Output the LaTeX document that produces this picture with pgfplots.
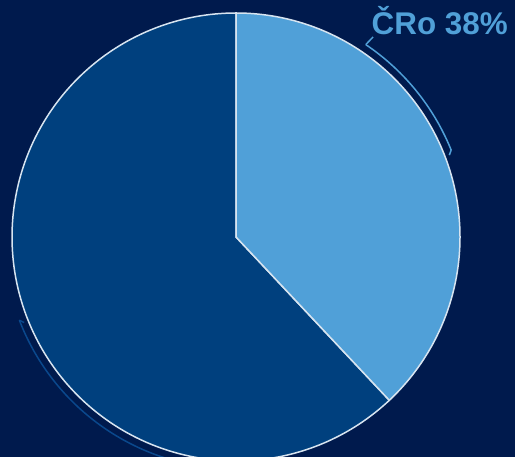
\documentclass[border=0pt]{standalone}
\usepackage{pgfplots}
\pgfplotsset{compat=1.18}
\usepackage{fontspec}
\setmainfont{Liberation Sans}
\definecolor{bgcol}{RGB}{0,26,77}
\definecolor{lightslice}{RGB}{80,160,216}
\definecolor{darkslice}{RGB}{0,64,126}
\definecolor{edgecol}{RGB}{215,228,240}
\definecolor{leaderdark}{RGB}{10,72,140}
\begin{document}
\begin{tikzpicture}
% data: shares in percent
\def\valA{38}% ČRo
\def\valB{62}% other
\pgfmathsetmacro{\startA}{90}
\pgfmathsetmacro{\endA}{90-3.6*\valA}
\pgfmathsetmacro{\endB}{\endA-3.6*\valB}
\begin{axis}[
  scale only axis, width=515bp, height=457bp,
  xmin=-1.0536, xmax=1.2455, ymin=-0.9821, ymax=1.0580,
  axis lines=none, clip=true,
  axis background/.style={fill=bgcol},
  samples=200,
]
% dark slice
\addplot[fill=darkslice, draw=edgecol, line width=1.5bp, domain=\endB:\endA, variable=\t]
  ({cos(\t)},{sin(\t)}) -- (axis cs:0,0) -- cycle;
% light slice
\addplot[fill=lightslice, draw=edgecol, line width=1.5bp, domain=\endA:\startA, variable=\t]
  ({cos(\t)},{sin(\t)}) -- (axis cs:0,0) -- cycle;
% leader for ČRo
\addplot[draw=lightslice, line width=1.5bp, domain=22:56, variable=\t]
  ({1.036*cos(\t)},{1.036*sin(\t)});
\draw[lightslice, line width=1.5bp] (axis cs:{1.036*cos(56)},{1.036*sin(56)}) -- (axis cs:0.612,0.893);
\draw[lightslice, line width=1.5bp] (axis cs:{1.036*cos(22)},{1.036*sin(22)}) -- (axis cs:{1.02*cos(21)},{1.02*sin(21)});
% leader for other slice (label outside view)
\addplot[draw=leaderdark, line width=1.5bp, domain=201:265, variable=\t]
  ({1.036*cos(\t)},{1.036*sin(\t)});
\draw[leaderdark, line width=1.5bp] (axis cs:{1.036*cos(201)},{1.036*sin(201)}) -- (axis cs:{1.02*cos(202)},{1.02*sin(202)});
\node[anchor=base east, text=lightslice, font=\fontsize{31.5}{34}\selectfont\bfseries, inner sep=0pt]
  at (axis cs:1.214,0.902) {ČRo 38\%};
\end{axis}
\end{tikzpicture}
\end{document}
